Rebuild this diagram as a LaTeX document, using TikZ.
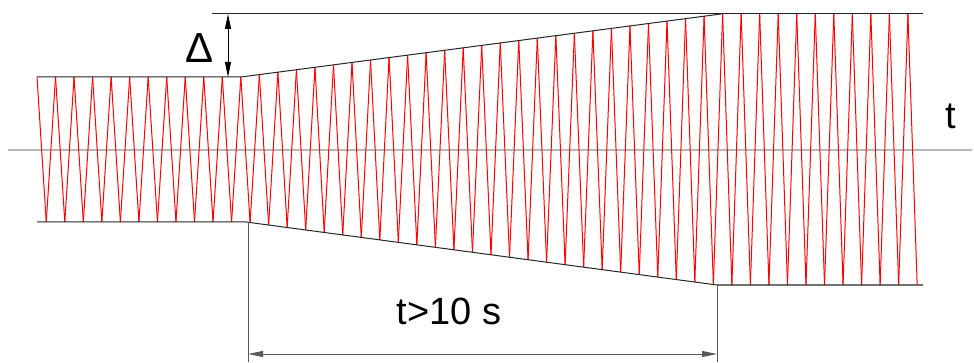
\documentclass[tikz,border=0pt]{standalone}
\usepackage{fontspec}
\setmainfont{Liberation Sans}
\usetikzlibrary{arrows.meta}
\begin{document}
\begin{tikzpicture}[x=1pt,y=-1pt,
  declare function={ytop(\x)=max(14,min(77,77-(\x-241)/480*63));
                    ybot(\x)=min(285,max(222,222+(\x-246)/471*63));},
  axis/.style={draw=black!28,line width=1.3pt},
  wave/.style={draw=red,line width=1pt},
  env/.style={draw=black!85,line width=1pt},
  dimline/.style={draw=black!65,line width=1pt},
  dimarrow/.style={dimline,{Triangle[length=15pt,width=6pt]}-{Triangle[length=15pt,width=6pt]}},
  lbl/.style={font=\fontsize{38}{42}\selectfont,inner sep=0pt}]
\useasboundingbox (0,0) rectangle (974,363);
% axis
\coordinate (axL) at (8,150);
\coordinate (axR) at (972,150);
\draw[axis] (axL) -- (axR);
% zigzag
\foreach \k in {0,...,47}{
  \pgfmathsetmacro{\tx}{37+18.53*\k}
  \pgfmathsetmacro{\bx}{46.265+18.53*\k}
  \draw[wave] (\tx,{ytop(\tx)}) -- (\bx,{ybot(\bx)});
}
\foreach \k in {0,...,46}{
  \pgfmathsetmacro{\bx}{46.265+18.53*\k}
  \pgfmathsetmacro{\tx}{37+18.53*(\k+1)}
  \draw[wave] (\bx,{ybot(\bx)}) -- (\tx,{ytop(\tx)});
}
% envelope
\coordinate (tl) at (37,77);
\coordinate (tm) at (241,77);
\coordinate (tr) at (721,14);
\coordinate (te) at (923,14);
\coordinate (bl) at (37,222);
\coordinate (bm) at (246,222);
\coordinate (br) at (717,285);
\coordinate (be) at (923,285);
\coordinate (ext) at (212,14);
\draw[env] (tl) -- (tm) -- (tr);
\draw[env] (ext) -- (te);
\draw[env] (bl) -- (bm) -- (br) -- (be);
% delta dimension
\coordinate (dT) at (228,14);
\coordinate (dB) at (228,77);
\draw[dimarrow,draw=black] (dT) -- (dB);
\node[lbl,anchor=base,font=\fontsize{42}{46}\selectfont] (delta) at (200,63) {Δ};
% time dimension
\coordinate (e1a) at (248,222.5);
\coordinate (e1b) at (248,362);
\coordinate (e2a) at (717,285);
\coordinate (e2b) at (717,362);
\draw[dimline] (e1a) -- (e1b);
\draw[dimline] (e2a) -- (e2b);
\coordinate (d1) at (248,354);
\coordinate (d2) at (717,354);
\draw[dimarrow] (d1) -- (d2);
\node[lbl,anchor=base] (tlabel) at (449,324) {t>10 s};
\node[lbl,anchor=base] (taxis) at (951,129) {t};
\end{tikzpicture}
\end{document}
